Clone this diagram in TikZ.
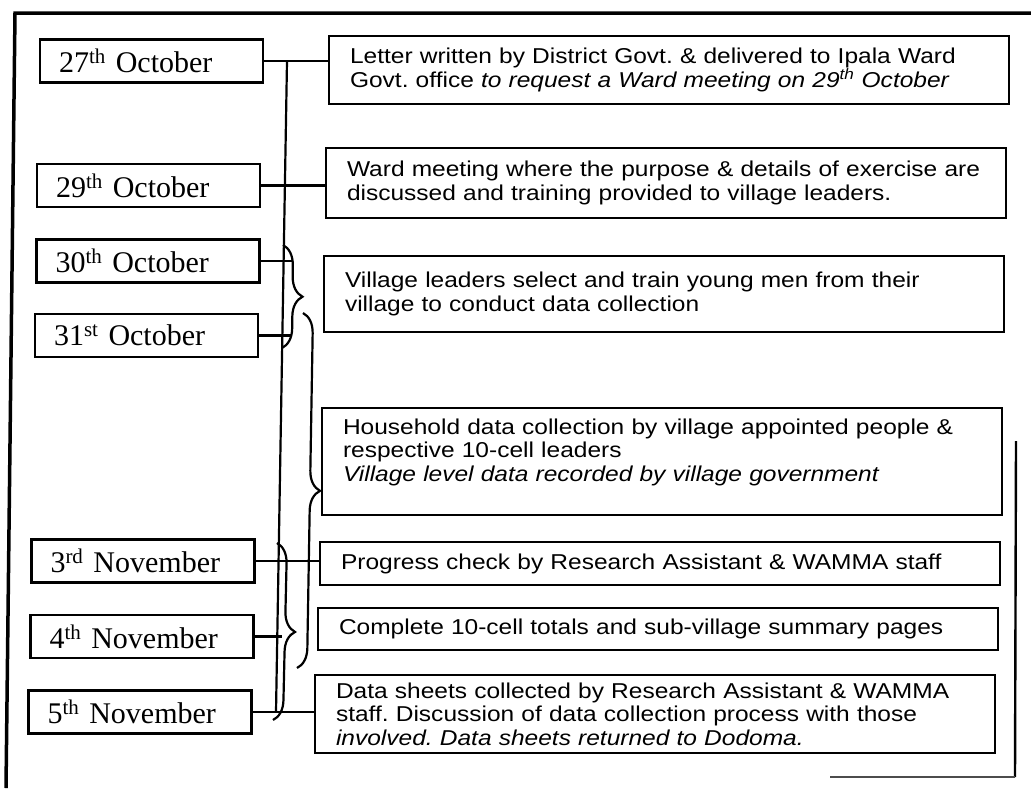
\documentclass[tikz,border=0pt]{standalone}
\usepackage{fontspec}
\setmainfont{Liberation Serif}
\setsansfont{Liberation Sans}[FakeStretch=1.14]
\usetikzlibrary{decorations.pathreplacing,calc}

\begin{document}
\frenchspacing
\begin{tikzpicture}[x=1pt,y=-1pt,
  datebox/.style={draw, line width=2.4pt, minimum height=43pt, text width=185pt,
    inner xsep=19pt, inner ysep=0pt, align=left,
    font=\fontsize{30}{34}\selectfont},
  taskbox/.style={draw, line width=2.4pt, text width=638pt, inner xsep=21pt,
    inner ysep=0pt, align=left, font=\sffamily\fontsize{21.5}{23.5}\selectfont},
  link/.style={line width=2.2pt},
  bracket/.style={line width=2.2pt, decorate, decoration={brace, amplitude=20pt}},
  frameline/.style={line width=3.5pt}]

\useasboundingbox (0,0) rectangle (1031,788);

% outer frame
\draw[frameline] (6,788) -- (15,13) -- (1031,13);
\draw[line width=2.4pt] (1016,441) -- (1015,777);
\draw[line width=1.4pt, black!70] (830,777) -- (1015,777);

% dates
\node[datebox] (d1) at (151.5,61)  {27\textsuperscript{th} October};
\node[datebox] (d2) at (148.5,185.5) {29\textsuperscript{th} October};
\node[datebox] (d3) at (148,261)   {30\textsuperscript{th} October};
\node[datebox] (d4) at (146.5,335.5) {31\textsuperscript{st} October};
\node[datebox] (d5) at (143,561)   {3\textsuperscript{rd} November};
\node[datebox] (d6) at (142,636.5) {4\textsuperscript{th} November};
\node[datebox] (d7) at (140,712)   {5\textsuperscript{th} November};

% activities
\node[taskbox, minimum height=68pt] (b1) at (669,70)
  {Letter written by District Govt. \& delivered to Ipala Ward\\
   Govt. office \textit{to request a Ward meeting on 29\textsuperscript{th} October}};
\node[taskbox, minimum height=70pt] (b2) at (666,183)
  {Ward meeting where the purpose \& details of exercise are\\
   discussed and training provided to village leaders.};
\node[taskbox, minimum height=76pt] (b3) at (664,294)
  {Village leaders select and train young men from their\\
   village to conduct data collection};
\node[taskbox, minimum height=107pt] (b4) at (662,461.5)
  {Household data collection by village appointed people \&\\
   respective 10-cell leaders\\
   \textit{Village level data recorded by village government}\\
   \mbox{}};
\node[taskbox, minimum height=43pt] (b5) at (660,563.5)
  {Progress check by Research Assistant \& WAMMA staff};
\node[taskbox, minimum height=42pt] (b6) at (658,629)
  {Complete 10-cell totals and sub-village summary pages};
\node[taskbox, minimum height=78pt] (b7) at (655,714)
  {Data sheets collected by Research Assistant \& WAMMA\\
   staff. Discussion of data collection process with those\\
   \textit{involved. Data sheets returned to Dodoma.}};

% timeline spine and its stubs
\coordinate (vtop) at (287,61);
\coordinate (vbot) at (276,712);
\coordinate (armA) at (292,0);
\coordinate (stub) at (282,0);

\draw[link] (d1.east) -- (d1.east -| b1.west);
\draw[link] (vtop) -- (vbot);
\draw[link] (d2.east) -- (d2.east -| b2.west);
\draw[link] (d3.east) -- (d3.east -| armA);
\draw[link] (d4.east) -- (d4.east -| armA);
\draw[link] (d5.east) -- (d5.east -| b5.west);
\draw[link] (d6.east) -- (d6.east -| stub);
\draw[link] (d7.east) -- (d7.east -| b7.west);

% braces grouping several days
\coordinate (brA1) at (283,245);
\coordinate (brA2) at (282,348);
\coordinate (brB1) at (303,313);
\coordinate (brB2) at (297,668);
\coordinate (brC1) at (277,543);
\coordinate (brC2) at (273,720);
\draw[bracket] (brA1) -- (brA2);
\draw[bracket] (brB1) -- (brB2);
\draw[bracket] (brC1) -- (brC2);

\end{tikzpicture}
\end{document}
